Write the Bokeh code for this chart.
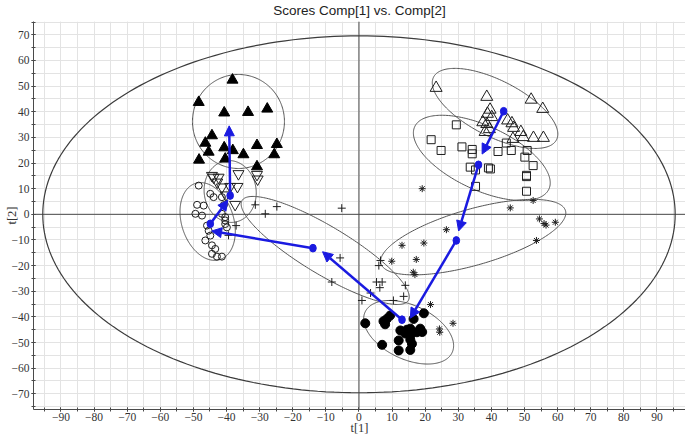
import numpy as np
from bokeh.plotting import figure
from bokeh.models import (Range1d, SingleIntervalTicker, Span, Arrow,
                          NormalHead, ColumnDataSource)
from bokeh.embed import file_html
from bokeh.resources import INLINE

# ---------------- data ----------------
# filled triangles
tri_f_x = [-38.2, -48.4, -40.7, -33.5, -27.7, -44.4, -46.4, -45.4, -40.7, -38.1,
           -34.9, -30.8, -24.8, -25.6, -48.3, -40.4, -30.8]
tri_f_y = [52.4, 43.7, 39.6, 39.8, 41.1, 30.7, 27.8, 24.3, 26.0, 24.9,
           23.3, 26.9, 27.3, 23.3, 21.2, 21.6, 18.6]
# open inverted triangles
itri_x = [-43.9, -42.4, -42.8, -36.4, -30.8, -30.6, -41.4, -38.9, -36.7, -37.4, -44.4, -40.2]
itri_y = [14.4, 14.4, 12.5, 15.8, 15.5, 13.7, 10.6, 10.8, 10.8, 3.8, 15.1, 7.5]
# open circles
circ_o_x = [-48.4, -44.9, -43.9, -41.4, -48.9, -46.9, -49.4, -47.4, -41.4, -40.4, -40.4, -40.4,
            -39.9, -45.9, -45.4, -44.9, -46.4, -44.4, -43.4, -44.4, -42.9, -41.4, -40.8]
circ_o_y = [11.2, 8.0, 6.7, 6.7, 3.7, 3.4, 0.2, -0.5, 0.2, -1.1, -2.4, -3.8,
            -5.1, -4.4, -6.4, -8.3, -10.2, -12.1, -13.5, -15.4, -16.5, -16.5, 3.6]
# plus
plus_x = [-31.3, -24.8, -28.3, -5.2, -37.1, -39.4, -5.7, -8.2, 6.5, 6.0, 5.3, 7.0,
          6.3, 3.5, 14.0, 13.5, 10.4, 0.9]
plus_y = [3.7, 3.0, 0.2, 2.4, -4.4, -8.2, -17.0, -26.4, -18.0, -20.0, -26.4, -26.4,
          -28.6, -30.7, -27.7, -32.0, -33.6, -33.6]
# filled circles
circ_f_x = [1.9, 7.4, 8.4, 9.4, 7.9, 19.6, 16.5, 12.5, 14.5, 15.5, 18.5, 19.1, 15.5,
            12.0, 15.5, 16.0, 7.0, 12.0, 15.5, 14.0, 17.5]
circ_f_y = [-42.5, -41.7, -40.8, -39.5, -42.9, -38.6, -40.8, -45.3, -45.0, -44.6, -44.6,
            -45.9, -47.2, -49.2, -48.9, -50.5, -50.9, -53.1, -52.9, -46.5, -46.0]
# asterisks
ast_x = [9.9, 17.3, 16.4, 16.9, 21.6, 28.4, 24.3, 24.4, 19.1, 45.7, 52.6, 54.5, 55.9,
         56.5, 59.3, 53.6, 26.4, 19.6, 13.0]
ast_y = [-18.3, -17.6, -22.6, -23.5, -35.2, -42.5, -44.7, -46.0, 10.0, 2.5, 5.4, -1.8,
         -3.6, -4.2, -3.1, -10.2, -6.0, -11.2, -12.1]
# open triangles
tri_o_x = [23.3, 38.6, 52.0, 55.5, 39.6, 38.8, 40.1, 37.4, 38.6, 39.4, 38.1, 44.9, 46.2,
           46.7, 48.9, 49.6, 52.7, 55.7, 46.5]
tri_o_y = [49.3, 45.8, 44.7, 41.1, 40.8, 39.2, 37.9, 35.9, 35.2, 33.2, 32.1, 36.6, 35.5,
           33.7, 32.1, 30.1, 29.8, 29.8, 29.4]
# open squares
sq_x = [29.4, 21.8, 24.8, 31.1, 34.2, 34.2, 42.0, 44.5, 46.0, 50.8, 50.1, 52.6, 33.6,
        35.2, 39.1, 39.7, 50.6, 50.6, 35.2, 50.6]
sq_y = [34.9, 29.1, 24.9, 26.3, 25.3, 23.6, 24.5, 27.8, 24.9, 24.9, 22.3, 19.0, 18.4,
        17.3, 18.1, 17.7, 15.2, 14.7, 10.9, 9.0]

# group centroids (blue dots), in trajectory order: open tri, square, asterisk,
# filled circle, plus, open circle, inverted tri
cen_x = [43.7, 36.1, 29.4, 13.0, -13.9, -44.9, -38.9]
cen_y = [40.2, 19.3, -10.2, -41.1, -13.2, -3.7, 7.3]
# arrow tips
tip_x = [37.2, 30.1, 15.5, -11.0, -44.5, -39.6, -39.2]
tip_y = [23.5, -6.5, -40.5, -14.6, -6.5, 5.5, 34.5]

# group confidence ellipses: centre (data), semi-axes (px), angle (deg)
ell_cx = [-36.4, -38.9, -45.7, -10.2, 15.0, 34.5, 37.1, 41.1]
ell_cy = [36.2, 8.9, -2.8, -14.1, -46.0, -8.9, 22.0, 41.3]
ell_a = [46, 31, 40, 97, 48, 96, 74, 69]
ell_b = [47, 26, 26, 24, 27, 28, 32, 28]
ell_ang = [0, 97, 108, -31, -25, 16, -25, -27]
# Hotelling T2 ellipse radii (data units)
t2_rx, t2_ry = 95.5, 69.6

tick_interval = 10

# ---------------- figure ----------------
W, H = 685, 448
ML, MR, MT, MB = 33, 0, 21, 39
FW, FH = W - ML - MR, H - MT - MB
x0 = -98.3
x1 = x0 + FW / 3.311
y1 = 75.2
y0 = y1 - FH / 2.564
kx = FW / (x1 - x0)
ky = FH / (y1 - y0)

p = figure(width=W, height=H, output_backend="svg", toolbar_location=None,
           x_range=Range1d(x0, x1), y_range=Range1d(y0, y1),
           min_border_left=ML, min_border_right=MR, min_border_top=MT,
           min_border_bottom=MB)
p.outline_line_color = None
p.background_fill_color = "white"

p.title.text = "Scores Comp[1] vs. Comp[2]"
p.title.align = "center"
p.title.vertical_align = "top"
p.title.offset = -22
p.title.standoff = 3
p.title.text_font = "Liberation Sans"
p.title.text_font_size = "13.5px"
p.title.text_font_style = "normal"
p.title.text_color = "#222222"

FONT = "Liberation Sans Narrow"
for ax in (p.xaxis[0], p.yaxis[0]):
    ax.ticker = SingleIntervalTicker(interval=tick_interval, num_minor_ticks=2)
    ax.axis_line_color = "#4a4a4a"
    ax.major_tick_line_color = "#4a4a4a"
    ax.minor_tick_line_color = "#4a4a4a"
    ax.major_tick_in = 2
    ax.major_tick_out = 2
    ax.minor_tick_in = 2
    ax.minor_tick_out = 2
    ax.major_label_text_font = FONT
    ax.major_label_text_font_size = "11.5px"
    ax.major_label_text_color = "#333333"
    ax.axis_label_text_font = FONT
    ax.axis_label_text_font_size = "12.5px"
    ax.axis_label_text_font_style = "normal"
    ax.axis_label_text_color = "#333333"
p.xaxis.axis_label = "t[1]"
p.yaxis.axis_label = "t[2]"
p.xaxis.major_label_standoff = 1
p.yaxis.major_label_standoff = 2
p.xaxis.axis_label_standoff = -3
p.yaxis.axis_label_standoff = -10

for g in (p.xgrid[0], p.ygrid[0]):
    g.grid_line_color = "#e3e3e3"
    g.minor_grid_line_color = "#e3e3e3"

p.add_layout(Span(location=0, dimension="height", line_color="#4a4a4a", line_width=1, level="underlay"))
p.add_layout(Span(location=0, dimension="width", line_color="#4a4a4a", line_width=1, level="underlay"))


def ell(cx, cy, a, b, ang):
    t = np.linspace(0, 2 * np.pi, 241)
    th = np.radians(ang)
    X = a * np.cos(t) * np.cos(th) - b * np.sin(t) * np.sin(th)
    Y = a * np.cos(t) * np.sin(th) + b * np.sin(t) * np.cos(th)
    return cx + X / kx, cy + Y / ky


ex, ey = ell(0, 0, t2_rx * kx, t2_ry * ky, 0)
p.line(ex, ey, line_color="#3c3c3c", line_width=1.2)
for cx, cy, a, b, ang in zip(ell_cx, ell_cy, ell_a, ell_b, ell_ang):
    ex, ey = ell(cx, cy, a, b, ang)
    p.line(ex, ey, line_color="#555555", line_width=1)

INK = "#1e1e1e"
p.scatter(tri_f_x, tri_f_y, marker="triangle", size=11, fill_color="black", line_color="black")
p.scatter(itri_x, itri_y, marker="inverted_triangle", size=11, fill_color=None, line_color=INK)
p.scatter(circ_o_x, circ_o_y, marker="circle", size=7, fill_color=None, line_color=INK)
p.scatter(plus_x, plus_y, marker="cross", size=8, line_color=INK)
p.scatter(circ_f_x, circ_f_y, marker="circle", size=9, fill_color="black", line_color="black")
p.scatter(ast_x, ast_y, marker="asterisk", size=7, line_color=INK)
p.scatter(tri_o_x, tri_o_y, marker="triangle", size=12, fill_color=None, line_color=INK)
p.scatter(sq_x, sq_y, marker="square", size=8, fill_color=None, line_color=INK)

BLUE = "#1a1ae0"
src = ColumnDataSource(dict(xs=cen_x, ys=cen_y, xe=tip_x, ye=tip_y))
p.add_layout(Arrow(end=NormalHead(size=10, fill_color=BLUE, line_color=BLUE, line_width=1),
                   x_start="xs", y_start="ys", x_end="xe", y_end="ye", source=src,
                   line_color=BLUE, line_width=2.5))
p.ellipse(x=cen_x, y=cen_y, width=2.0, height=3.0, fill_color=BLUE, line_color=BLUE)

open("out.html", "w").write(file_html(p, INLINE))
